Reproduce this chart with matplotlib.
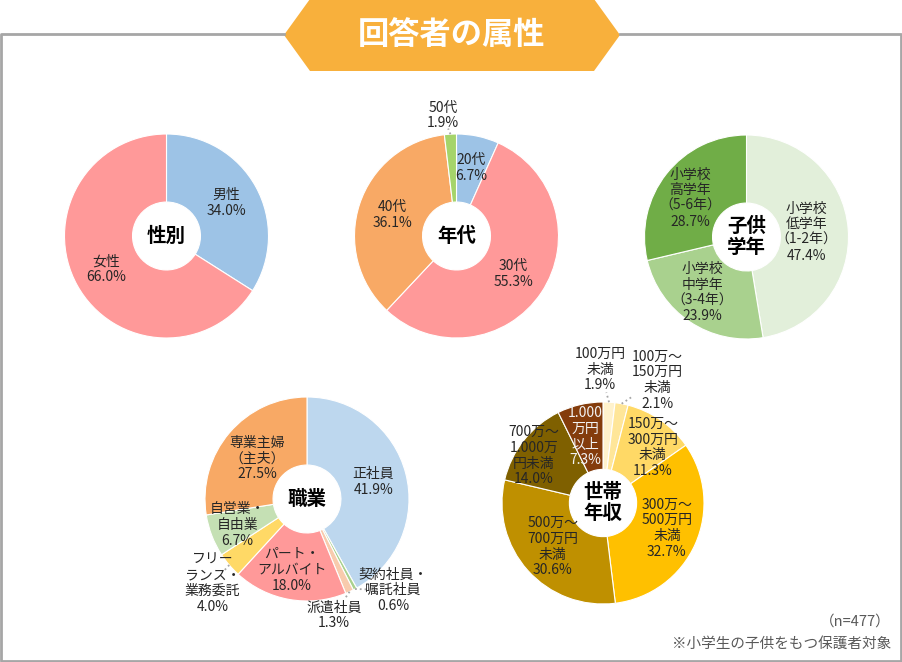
import matplotlib
matplotlib.use("Agg")
import matplotlib.pyplot as plt
import numpy as np
from matplotlib.patches import Polygon

plt.rcParams['font.family'] = ['Noto Sans CJK JP', 'DejaVu Sans']

W, H = 902, 662

# --- data ---
gender_names = ['男性', '女性']
gender_vals = [34.0, 66.0]

age_names = ['20代', '30代', '40代', '50代']
age_vals = [6.7, 55.3, 36.1, 1.9]

grade_names = ['小学校\n低学年\n（1-2年）', '小学校\n中学年\n（3-4年）', '小学校\n高学年\n（5-6年）']
grade_vals = [47.4, 23.9, 28.7]

job_names = ['正社員', '契約社員・\n嘱託社員', '派遣社員', 'パート・\nアルバイト',
             'フリー\nランス・\n業務委託', '自営業・\n自由業', '専業主婦\n（主夫）']
job_vals = [41.9, 0.6, 1.3, 18.0, 4.0, 6.7, 27.5]

income_names = ['100万円\n未満', '100万～\n150万円\n未満', '150万～\n300万円\n未満',
                '300万～\n500万円\n未満', '500万～\n700万円\n未満',
                '700万～\n1.000万\n円未満', '1.000\n万円\n以上']
income_vals = [1.9, 2.1, 11.3, 32.7, 30.6, 14.0, 7.3]

fig = plt.figure(figsize=(W / 100, H / 100), dpi=100)

# background / frame / banner in pixel coordinates
bg = fig.add_axes([0, 0, 1, 1])
bg.set_xlim(0, W)
bg.set_ylim(H, 0)
bg.axis('off')
frame_c = '#A6A6A6'
bg.plot([284, 1, 1, 901, 901, 620], [34, 34, 661, 661, 34, 34], color=frame_c, lw=2)
bg.add_patch(Polygon([(284, 35), (310, -1), (594, -1), (620, 35), (594, 71), (310, 71)],
                     closed=True, facecolor='#F8B03C', edgecolor='none'))
bg.text(452, 35, '回答者の属性', color='white', fontsize=22.5, fontweight='bold',
        ha='center', va='center')
bg.text(891, 622, '（n=477）', color='#595959', fontsize=10.5, ha='right', va='center')
bg.text(891, 644, '※小学生の子供をもつ保護者対象', color='#595959', fontsize=10.5,
        ha='right', va='center')


def donut(cx, cy, r, vals, names, colors, title, dist, shift, txtcol=None, leaders=()):
    ax = fig.add_axes([(cx - r) / W, 1 - (cy + r) / H, 2 * r / W, 2 * r / H])
    wedges, _ = ax.pie(vals, colors=colors, startangle=90, counterclock=False,
                       wedgeprops=dict(width=0.667, edgecolor='white', linewidth=0.8))
    ax.set_xlim(-1, 1)
    ax.set_ylim(-1, 1)
    ax.text(0, 0, title, ha='center', va='center', fontsize=14, fontweight='bold',
            linespacing=1.1)
    for i, w in enumerate(wedges):
        mid = np.deg2rad((w.theta1 + w.theta2) / 2)
        ang = mid + np.deg2rad(shift[i])
        lx, ly = dist[i] * np.cos(ang), dist[i] * np.sin(ang)
        col = txtcol[i] if txtcol else '#262626'
        ax.text(lx, ly, f'{names[i]}\n{vals[i]:.1f}%', ha='center', va='center',
                fontsize=10, color=col, linespacing=1.15, clip_on=False)
        if i in leaders:
            ex, ey = np.cos(mid), np.sin(mid)
            ax.plot([ex, ex + 0.3 * (lx - ex)], [ey, ey + 0.3 * (ly - ey)],
                    ls=':', color='#A6A6A6', lw=1.3, clip_on=False)
    return ax


donut(166.5, 236, 102, gender_vals, gender_names, ['#9DC3E6', '#FF9999'], '性別',
      [0.67, 0.67], [0, 0])

donut(456.5, 236, 102, age_vals, age_names,
      ['#9DC3E6', '#FF9999', '#F8A965', '#A5D46A'], '年代',
      [0.68, 0.67, 0.66, 1.19], [0, 0, 0, 3], leaders=(3,))

donut(746.5, 237, 102, grade_vals, grade_names,
      ['#E2EFDA', '#A9D18E', '#70AD47'], '子供\n学年',
      [0.59, 0.70, 0.67], [0, -4.8, 3.7])

donut(307, 499, 102, job_vals, job_names,
      ['#BDD7EE', '#A9D18E', '#F8CBAD', '#FF9999', '#FFD966', '#C5E0B4', '#F8A965'],
      '職業', [0.67, 1.23, 1.17, 0.71, 1.24, 0.73, 0.63],
      [0, 15.3, -11.7, -1.8, 1.5, -0.7, 1.1], leaders=(1, 2, 4))

donut(603, 503, 101, income_vals, income_names,
      ['#FFF2CC', '#FFE699', '#FFD966', '#FFC000', '#BF9000', '#7F6000', '#843C0C'],
      '世帯\n年収', [1.32, 1.33, 0.74, 0.68, 0.66, 0.83, 0.68],
      [4.7, -13.1, -7.1, 2.6, -0.8, 4.2, 1.8],
      txtcol=['#262626'] * 6 + ['#F2F2F2'], leaders=(0, 1))

fig.savefig('out.png', dpi=100)
